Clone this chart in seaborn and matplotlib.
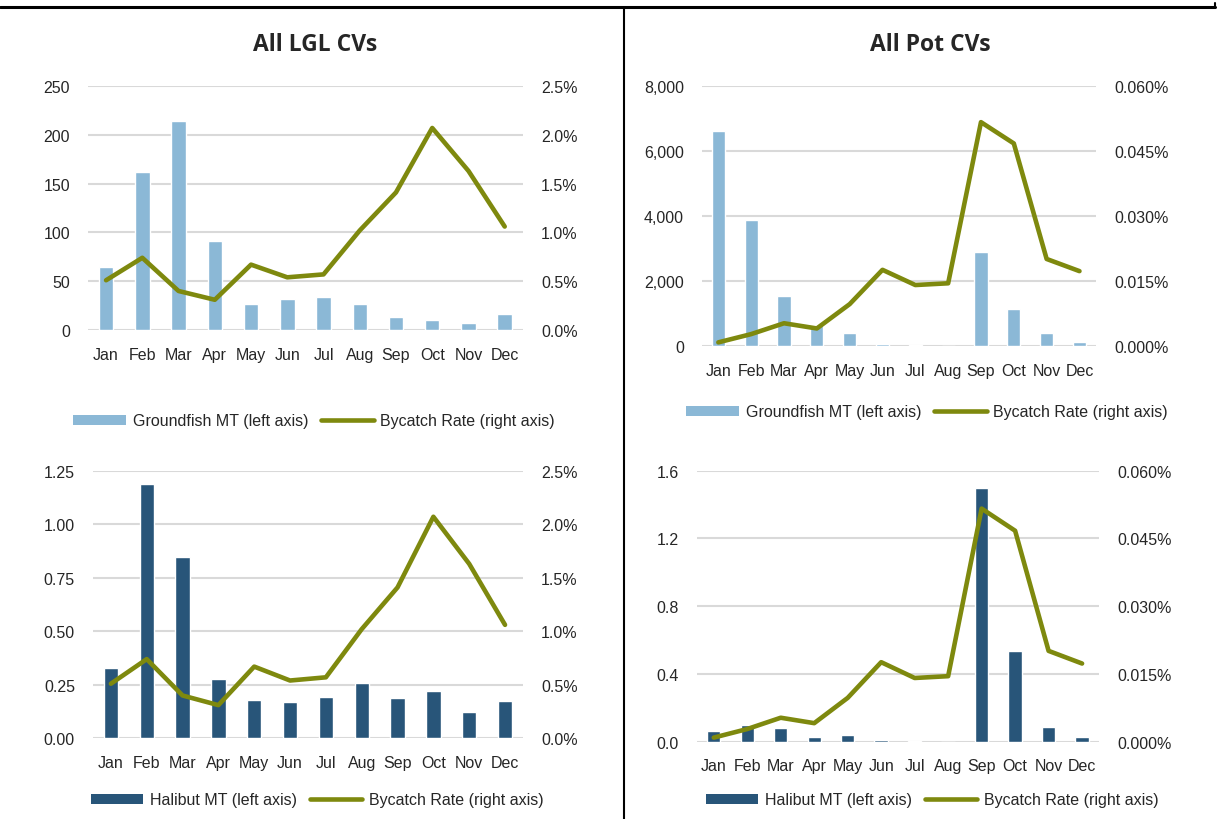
import numpy as np
import pandas as pd
import matplotlib.pyplot as plt
import seaborn as sns
from matplotlib.lines import Line2D
from matplotlib.patches import Patch
from matplotlib.ticker import FuncFormatter

sns.set_style("white")
plt.rcParams['font.family'] = ['Liberation Sans', 'DejaVu Sans']

# Data
months = ["Jan", "Feb", "Mar", "Apr", "May", "Jun", "Jul", "Aug", "Sep", "Oct", "Nov", "Dec"]

lgl_groundfish = [64.5, 162, 214, 91, 26.6, 31.7, 34, 26.6, 13.3, 10.2, 7.2, 16.4]
lgl_halibut = [0.33, 1.19, 0.845, 0.277, 0.179, 0.168, 0.194, 0.26, 0.187, 0.22, 0.121, 0.173]
lgl_rate = [0.51, 0.74, 0.40, 0.31, 0.67, 0.54, 0.57, 1.02, 1.41, 2.07, 1.63, 1.06]  # percent

pot_groundfish = [6620, 3890, 1535, 663, 408, 61, 40, 0, 2895, 1145, 408, 132]
pot_halibut = [0.065, 0.099, 0.081, 0.026, 0.040, 0.012, 0.005, 0.0, 1.498, 0.537, 0.085, 0.026]
pot_rate = [0.0009, 0.0028, 0.0053, 0.0041, 0.0097, 0.0176, 0.0141, 0.0145, 0.0516, 0.0467, 0.0201, 0.0173]  # percent

light_blue = "#8BB8D6"
dark_blue = "#285579"
olive = "#7E890E"
grid_gray = "#D9D9D9"

fig = plt.figure(figsize=(12.25, 8.2), dpi=100)


def panel(rect, bars, bar_color, rate, ymax, ystep, left_fmt, rmax, rstep, right_fmt,
          bar_label, legend_xy):
    ax = fig.add_axes(rect)
    df = pd.DataFrame({"month": months, "value": bars, "rate": rate})
    sns.barplot(data=df, x="month", y="value", color=bar_color, width=0.4,
                saturation=1, ax=ax, zorder=2)
    ax.set_ylim(0, ymax)
    ax.set_yticks(np.arange(0, ymax + ystep / 2, ystep))
    ax.yaxis.set_major_formatter(FuncFormatter(left_fmt))
    ax.grid(axis="y", color=grid_gray, linewidth=1.5, zorder=0)
    ax.set_axisbelow(True)
    ax.set_xlabel("")
    ax.set_ylabel("")
    ax.set_xlim(-0.5, 11.5)
    for s in ax.spines.values():
        s.set_visible(False)
    ax.tick_params(axis="y", length=0, pad=13, labelsize=11.5)
    ax.tick_params(axis="x", length=0, pad=12, labelsize=11.5)

    ax2 = ax.twinx()
    sns.lineplot(x=np.arange(len(months)), y=rate, color=olive, linewidth=3.3,
                 ax=ax2, solid_capstyle="round", solid_joinstyle="round")
    ax2.set_ylim(0, rmax)
    ax2.set_yticks(np.arange(0, rmax + rstep / 2, rstep))
    ax2.yaxis.set_major_formatter(FuncFormatter(right_fmt))
    ax2.set_xlim(-0.5, 11.5)
    for s in ax2.spines.values():
        s.set_visible(False)
    ax2.tick_params(axis="y", length=0, pad=13, labelsize=11.5)
    ax2.grid(False)

    handles = [Patch(facecolor=bar_color, edgecolor="none"),
               Line2D([0], [0], color=olive, linewidth=3.3, solid_capstyle="round")]
    labels = [bar_label, "Bycatch Rate (right axis)"]
    fig.legend(handles, labels, loc="center",
               bbox_to_anchor=(legend_xy[0] / 1225, 1 - legend_xy[1] / 820), ncol=2,
               frameon=False, fontsize=11.5, handlelength=3.3, handleheight=0.6,
               handletextpad=0.4, columnspacing=0.8)
    return ax


panel([0.0718, 0.5963, 0.355, 0.2976], lgl_groundfish, light_blue, lgl_rate,
      250, 50, lambda v, p: f"{v:.0f}", 2.5, 0.5, lambda v, p: f"{v:.1f}%",
      "Groundfish MT (left axis)", (314, 422))
panel([0.573, 0.5765, 0.3216, 0.3178], pot_groundfish, light_blue, pot_rate,
      8000, 2000, lambda v, p: f"{v:,.0f}", 0.06, 0.015, lambda v, p: f"{v:.3f}%",
      "Groundfish MT (left axis)", (927, 413))
panel([0.0759, 0.0984, 0.351, 0.3263], lgl_halibut, dark_blue, lgl_rate,
      1.25, 0.25, lambda v, p: f"{v:.2f}", 2.5, 0.5, lambda v, p: f"{v:.1f}%",
      "Halibut MT (left axis)", (317, 801))
panel([0.569, 0.0943, 0.328, 0.3305], pot_halibut, dark_blue, pot_rate,
      1.6, 0.4, lambda v, p: f"{v:.1f}", 0.06, 0.015, lambda v, p: f"{v:.3f}%",
      "Halibut MT (left axis)", (932, 801))

# Titles
fig.text(315 / 1225, 1 - 45 / 820, "All LGL CVs", ha="center", va="center",
         fontsize=16.5, fontweight="bold", family=["Open Sans", "DejaVu Sans"])
fig.text(930 / 1225, 1 - 45 / 820, "All Pot CVs", ha="center", va="center",
         fontsize=16.5, fontweight="bold", family=["Open Sans", "DejaVu Sans"])

# Divider lines
fig.add_artist(Line2D([0, 1215 / 1225], [1 - 8 / 820, 1 - 8 / 820], color="black", linewidth=2.2))
fig.add_artist(Line2D([1215 / 1225, 1215 / 1225], [1 - 8 / 820, 1 - 4 / 820], color="black", linewidth=1.5))
fig.add_artist(Line2D([624 / 1225, 624 / 1225], [0, 1 - 8 / 820], color="black", linewidth=1.5))

fig.savefig("out.png", dpi=100)
